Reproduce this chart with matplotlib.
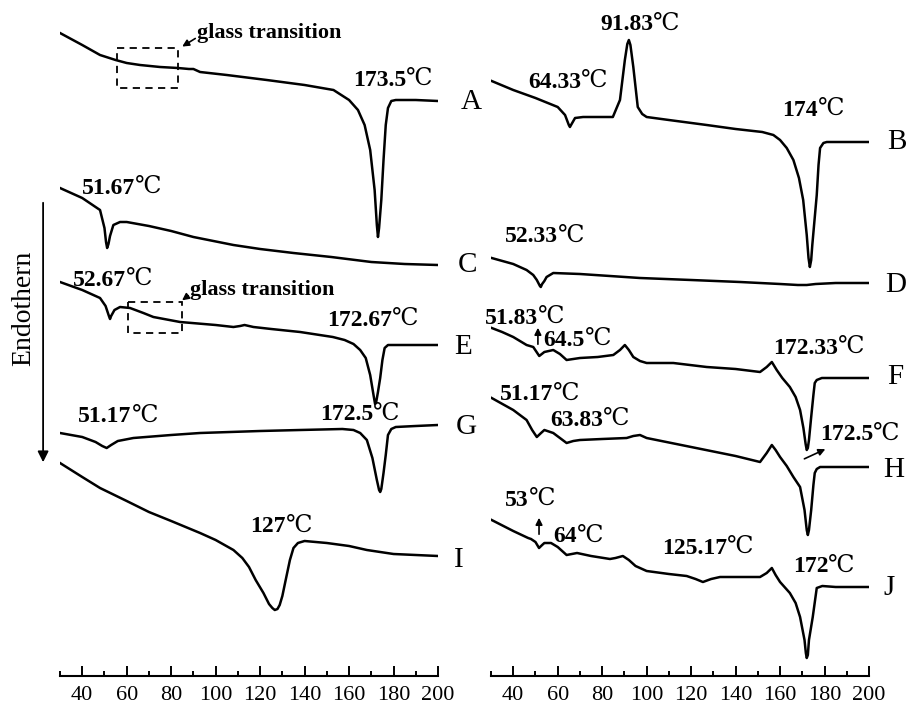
import matplotlib
matplotlib.use('Agg')
import matplotlib.pyplot as plt
from matplotlib.patches import Rectangle

plt.rcParams['font.family'] = ['Liberation Serif', 'DejaVu Serif', 'Noto Sans CJK SC']

# ---- data: temperature (C) and DSC signal (arbitrary units, endotherm down) ----
temp_A = [30, 40, 48, 55, 60, 66, 75, 83, 88, 90, 93, 105, 123, 140, 153, 160, 164, 167, 169.5, 171.5,
          172.5, 173, 173.5, 174.5, 175.5, 176.5, 177.5, 179, 181, 190, 200]
sig_A = [33, 45, 55, 60, 63, 65, 67, 68, 69, 69, 72, 75, 80, 85, 90, 100, 110, 125, 150, 190,
         225, 237, 228, 200, 160, 125, 108, 101, 100, 100, 101]

temp_C = [30, 40, 48, 50, 50.7, 51.2, 51.8, 52.5, 54, 57, 60, 70, 80, 90, 108, 120, 135, 152, 170, 185, 200]
sig_C = [188, 198, 210, 228, 242, 248, 244, 236, 225, 222, 222, 226, 231, 237, 245, 249, 253, 257, 262, 264, 265]

temp_E = [30, 40, 48, 50.5, 52, 52.5, 53, 54.5, 57, 61.5, 67.5, 72, 84, 100, 108, 111, 113, 115, 117, 125, 138,
          152.7, 158, 162, 165, 167.5, 169.5, 171, 171.7, 172.2, 173, 174, 175, 176, 177.5, 180, 200]
sig_E = [282, 290, 298, 306, 316, 319, 316, 310, 307, 308, 313, 317, 322, 325, 327, 326, 325, 326, 327, 329, 332,
         337, 340, 344, 350, 358, 375, 395, 404, 402, 392, 378, 360, 348, 345, 345, 345]

temp_G = [30, 40, 46, 49, 51, 53, 56, 63, 80, 93, 120, 138, 157, 162, 165, 168, 170.5, 172.5, 173.5, 174,
          174.5, 175.5, 176.5, 177.5, 179, 181, 190, 200]
sig_G = [433, 437, 442, 446, 448, 445, 441, 438, 435, 433, 431, 430, 429, 430, 433, 440, 458, 480, 490, 492,
         489, 473, 455, 435, 429, 427, 426, 425]

temp_I = [30, 40, 48, 60, 70, 80, 93, 100, 108, 112, 115, 118, 121.5, 124, 125.5, 126.6, 127.8, 128.8, 130,
          131.5, 133.4, 135, 137, 140, 150, 160, 168, 180, 200]
sig_I = [463, 477, 488, 501, 512, 521, 533, 540, 550, 558, 567, 580, 593, 604, 608, 610, 609, 605, 596,
         580, 560, 548, 543, 541, 543, 546, 550, 554, 556]

temp_B = [30.3, 40, 50, 60, 63.3, 65, 65.5, 66, 67.8, 71.4, 80, 84.8, 88, 90.2, 91.3, 92, 92.7, 94, 96, 98, 100,
          110, 127, 140, 152, 157, 160, 163, 166, 168.5, 170.4, 172, 172.8, 173.4, 174, 174.5, 175.5, 176.5,
          177.3, 178, 179.5, 181, 190, 200]
sig_B = [81, 90, 98, 107, 115, 125, 127, 125, 118, 117, 117, 117, 100, 60, 44, 40, 45, 67, 107, 114, 117,
         120, 125, 129, 132, 135, 140, 148, 160, 178, 200, 235, 258, 267, 260, 245, 220, 195,
         165, 148, 143, 142, 142, 142]

temp_D = [30.3, 40, 46, 49, 50.6, 52, 52.4, 53, 54, 55, 58, 70, 97, 120, 142, 160, 168, 172, 176, 185, 200]
sig_D = [258, 264, 270, 275, 280, 286, 287, 284, 281, 277, 273, 274, 278, 280, 282, 284, 285, 285, 284, 283, 283]

temp_F = [28, 35, 40, 46, 49, 51.7, 54, 58, 61, 64, 67, 70, 78, 85, 88, 90.2, 92, 94, 97, 100, 112,
          127, 140, 151, 154, 156.3, 158.5, 161, 164.4, 167, 169, 170.5, 171.5, 172, 172.5, 173, 174, 175,
          175.6, 176.5, 178.8, 185, 200]
sig_F = [326, 332, 337, 345, 347, 356, 352, 350, 354, 360, 359, 358, 357, 355, 350, 345, 350, 357,
         361, 363, 363, 367, 369, 372, 367, 362, 370, 378, 387, 397, 410, 428, 444, 450, 448, 440, 417, 395,
         383, 380, 378, 378, 378]

temp_H = [30.3, 40, 46, 48.5, 50.6, 52.5, 54, 58, 61, 64, 67, 70, 80, 91, 94, 97, 100, 120, 140, 151,
          154, 156.3, 158, 160, 163, 166, 169, 171, 172, 172.5, 173, 174, 175, 175.6, 176.5, 178, 185, 200]
sig_H = [398, 410, 420, 430, 437, 433, 430, 433, 438, 443, 441, 440, 439, 438, 436, 435, 438, 447,
         456, 462, 453, 445, 450, 457, 466, 477, 487, 510, 530, 535, 530, 510, 485, 473, 469, 467, 467, 467]

temp_J = [30.3, 40, 46.7, 48, 50, 51.6, 53, 54, 57, 60, 64, 68.7, 75, 83.5, 86, 89.3, 92, 95, 97, 100,
          110, 118, 122, 125.3, 129, 133, 140, 151, 154, 156.3, 158, 160, 164.4, 167, 169, 171, 171.6, 172,
          172.5, 173, 174.7, 176.5, 179, 185, 200]
sig_J = [520, 531, 538, 539, 542, 548, 545, 543, 543, 547, 555, 553, 556, 559, 558, 556, 560, 566,
         568, 571, 574, 576, 579, 582, 579, 577, 577, 577, 573, 568, 575, 582, 593, 603, 617, 640, 653, 658,
         655, 640, 617, 588, 586, 587, 587]

left_curves = [(temp_A, sig_A), (temp_C, sig_C), (temp_E, sig_E), (temp_G, sig_G), (temp_I, sig_I)]
right_curves = [(temp_B, sig_B), (temp_D, sig_D), (temp_F, sig_F), (temp_H, sig_H), (temp_J, sig_J)]

left_names = ['A', 'C', 'E', 'G', 'I']
left_name_pos = [(215, 102), (213.4, 265), (211.1, 347), (212.9, 427), (209.3, 560)]
right_names = ['B', 'D', 'F', 'H', 'J']
right_name_pos = [(212.5, 142), (212, 285), (211.6, 377), (211.1, 470), (208.9, 588)]

left_peaks = ['173.5', '51.67', '52.67', '172.67', '51.17', '172.5', '127']
left_peak_pos = [(161.7, 80), (39.9, 188), (35.8, 280), (150, 320), (38.1, 417), (146.9, 415), (115.4, 527)]
right_peaks = ['91.83', '64.33', '174', '52.33', '51.83', '64.5', '172.33',
               '51.17', '63.83', '172.5', '53', '64', '125.17', '172']
right_peak_pos = [(79, 25), (46.6, 82), (160.8, 110), (36.3, 237), (27.3, 318), (53.4, 340), (156.7, 348),
                  (34, 395), (56.5, 420), (177.9, 435), (36.3, 500), (57.9, 537), (106.9, 548), (165.7, 567)]

W, H = 907, 709
fig = plt.figure(figsize=(W / 100, H / 100), dpi=100)
ax1 = fig.add_axes([60 / W, 33 / H, 378 / W, 676 / H])
ax2 = fig.add_axes([491 / W, 33 / H, 378 / W, 676 / H])

for ax, curves in [(ax1, left_curves), (ax2, right_curves)]:
    for t, s in curves:
        ax.plot(t, s, color='black', lw=1.8, solid_joinstyle='round')
    ax.set_xlim(30, 200)
    ax.set_ylim(676, 0)
    for sp in ['left', 'right', 'top']:
        ax.spines[sp].set_visible(False)
    ax.spines['bottom'].set_linewidth(1.5)
    ax.set_yticks([])
    ax.set_xticks(range(40, 201, 20))
    ax.set_xticks(range(30, 200, 20), minor=True)
    ax.tick_params(axis='x', which='major', direction='in', length=7, width=1.4, labelsize=16, pad=7)
    ax.tick_params(axis='x', which='minor', direction='in', length=3.5, width=1.4)
    ax.patch.set_visible(False)

for ax, names, npos, peaks, ppos in [(ax1, left_names, left_name_pos, left_peaks, left_peak_pos),
                                     (ax2, right_names, right_name_pos, right_peaks, right_peak_pos)]:
    for n, (x, y) in zip(names, npos):
        ax.text(x, y, n, fontsize=21, ha='center', va='center')
    for p, (x, y) in zip(peaks, ppos):
        t = ax.text(x, y, p, fontsize=17, fontweight='bold', ha='left', va='center')
        ax.annotate('℃', xy=(1, 0.55), xycoords=t, fontsize=17, ha='left', va='center')

# glass transition boxes and labels
for (x0, x1, y0, y1), (tx, ty), (hx, hy) in [((55.6, 83, 48, 88), (91.6, 33), (83.9, 48)),
                                             ((60.6, 84.8, 302, 333), (88.4, 290), (83.9, 302))]:
    ax1.add_patch(Rectangle((x0, y0), x1 - x0, y1 - y0, fill=False, ls=(0, (4, 3)), lw=1.3, color='black'))
    ax1.text(tx, ty, 'glass transition', fontsize=16, fontweight='bold', ha='left', va='center')
    ax1.annotate('', xy=(hx, hy), xytext=(tx + 0.3, ty + 4),
                 arrowprops=dict(arrowstyle='-|>', color='black', lw=1.2, mutation_scale=10))

# small arrows in right panel
for (x0, y0), (x1, y1) in [((51.1, 347), (51.1, 325)), ((169.8, 460), (181.5, 448)), ((51.6, 537), (51.6, 515))]:
    ax2.annotate('', xy=(x1, y1), xytext=(x0, y0),
                 arrowprops=dict(arrowstyle='-|>', color='black', lw=1.2, mutation_scale=10))

# Endotherm arrow
ax1.annotate('', xy=(22.4, 465), xytext=(22.4, 200), annotation_clip=False,
             arrowprops=dict(arrowstyle='-|>', color='black', lw=1.3, mutation_scale=16))
fig.text(24 / W, 1 - 308 / H, 'Endothern', fontsize=20, rotation=90, ha='center', va='center')

fig.savefig('out.png', dpi=100)
